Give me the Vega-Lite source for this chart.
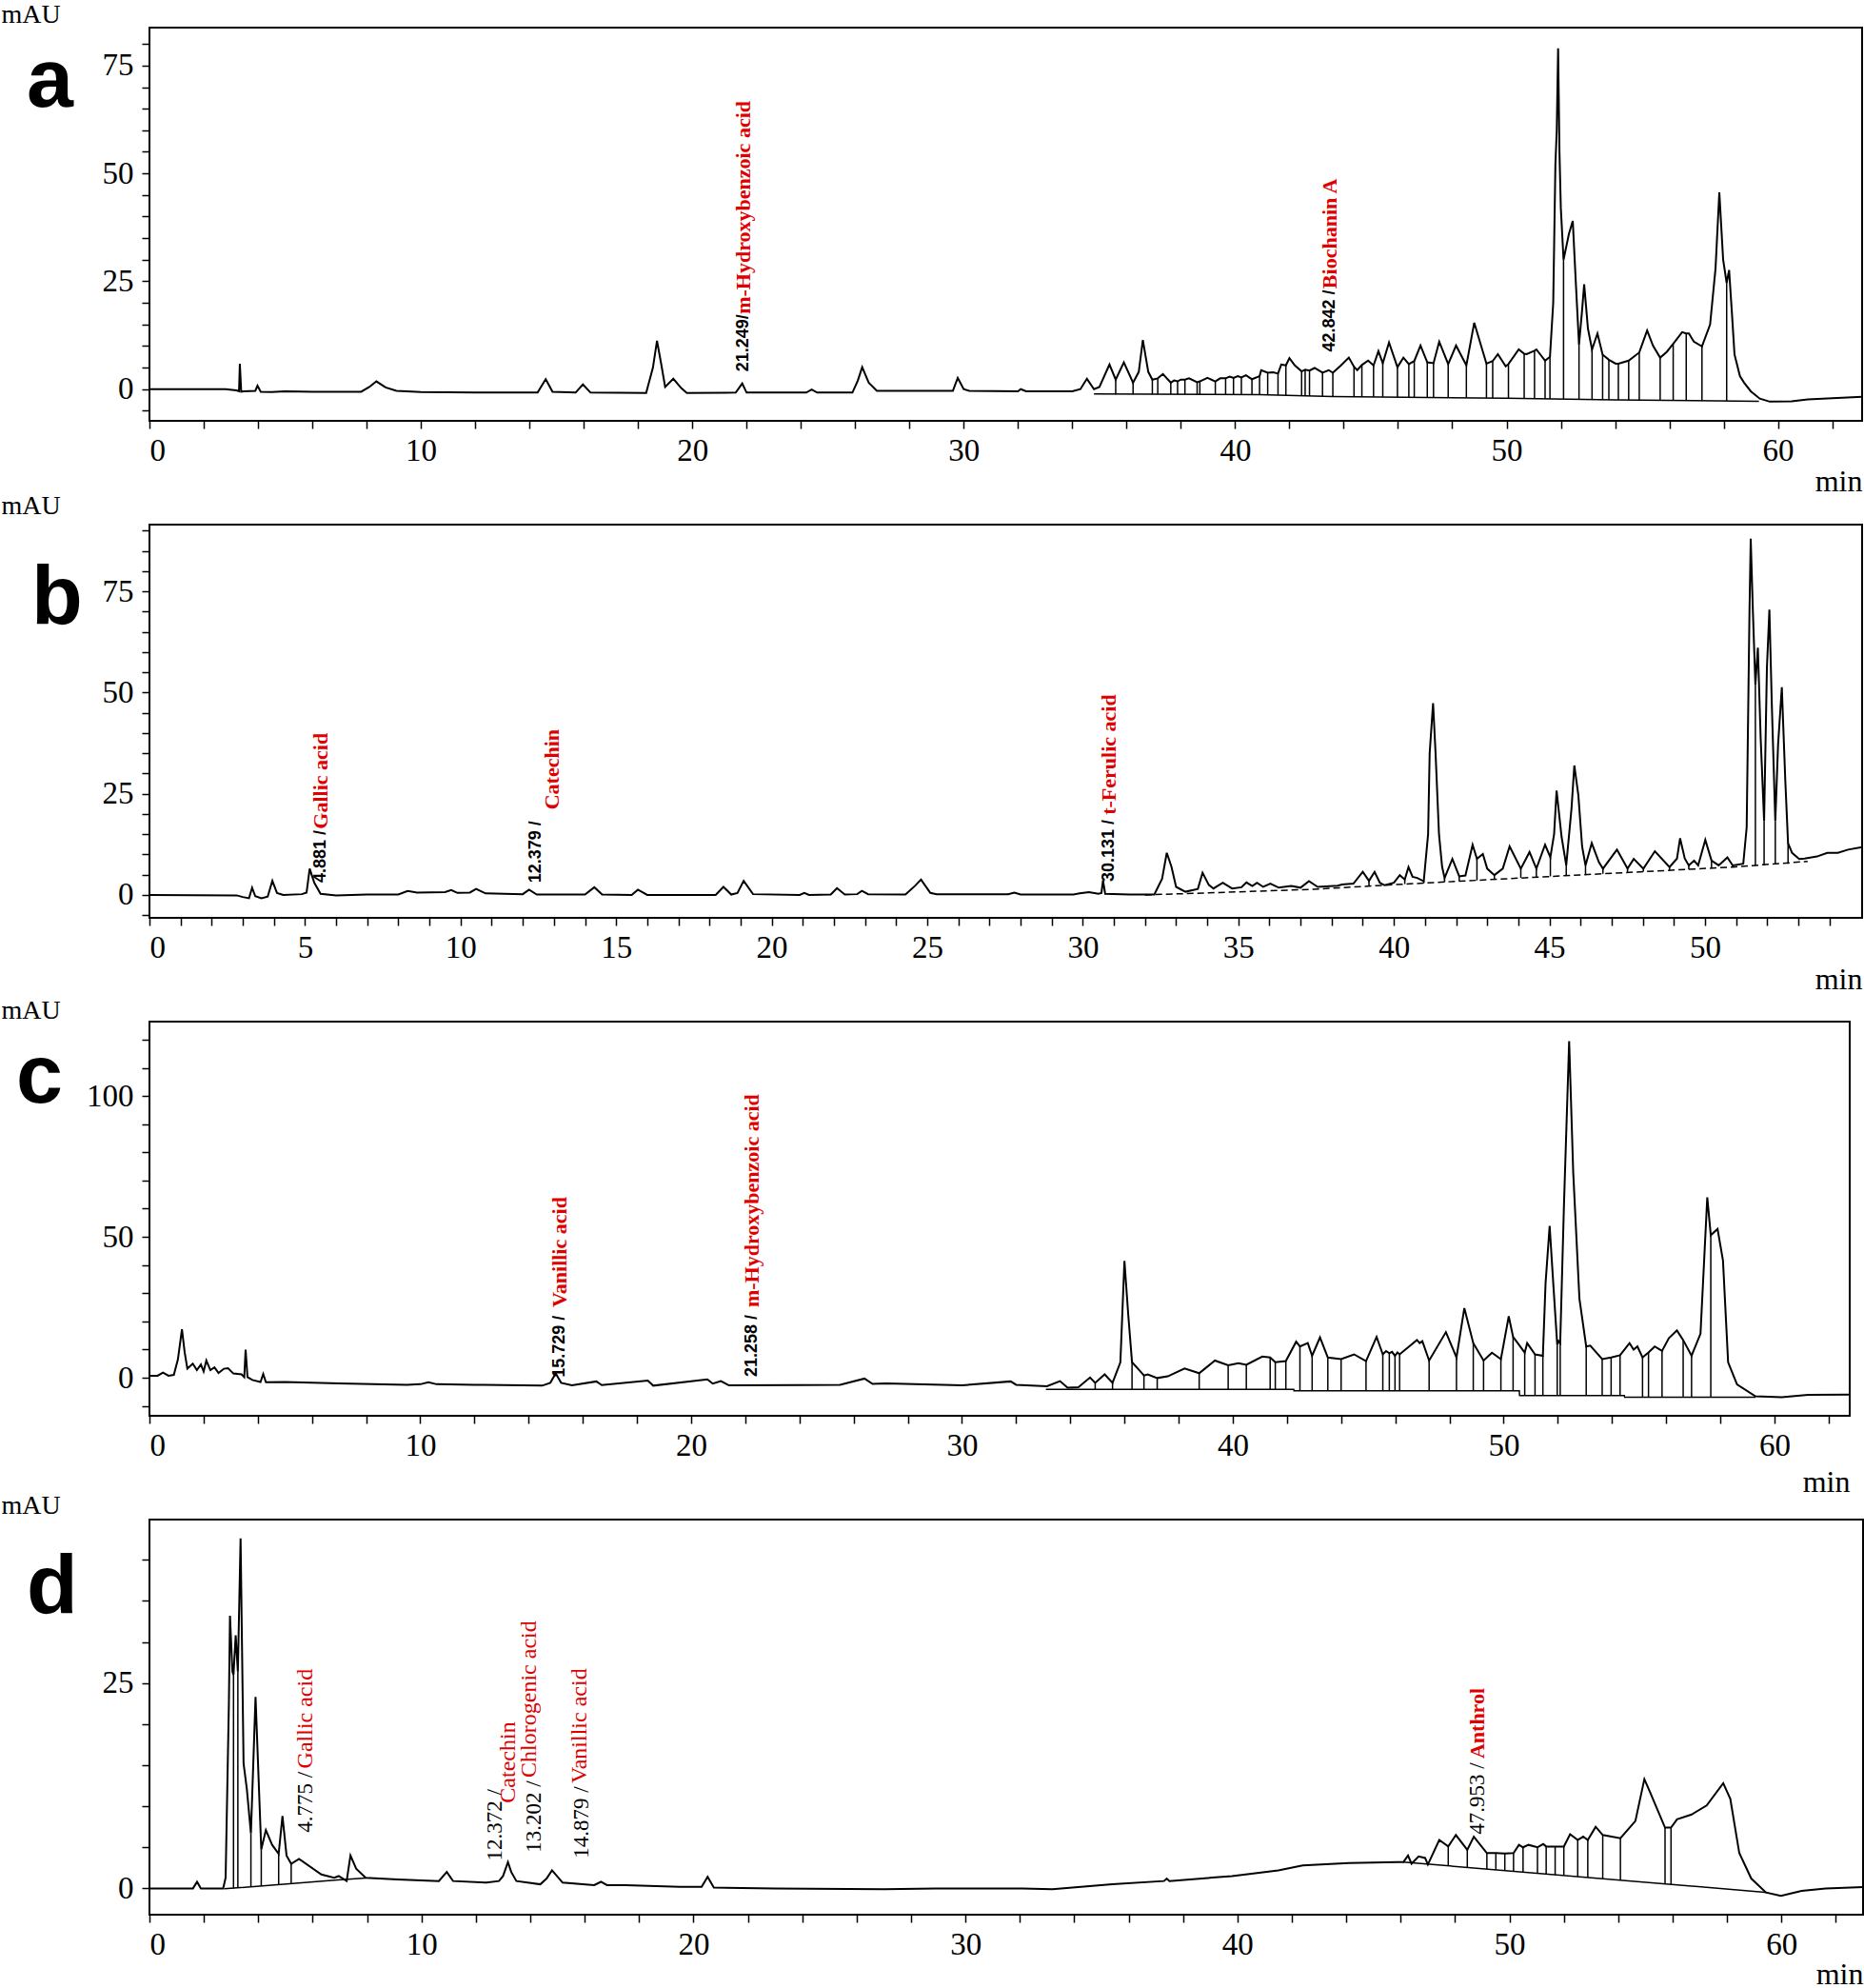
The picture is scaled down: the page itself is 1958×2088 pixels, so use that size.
{
  "$schema": "https://vega.github.io/schema/vega-lite/v6.json",
  "padding": 0,
  "autosize": {"type": "pad"},
  "background": "white",
  "config": {
    "view": {"stroke": "black", "strokeWidth": 2},
    "font": "Liberation Serif",
    "axis": {"domain": false, "grid": false, "ticks": true, "tickColor": "black", "tickSize": 8, "tickWidth": 1.5,
      "labelFont": "Liberation Serif", "labelFontSize": 33, "labelColor": "black", "labelPadding": 7,
      "titleFont": "Liberation Serif", "titleFontWeight": "normal", "titleColor": "black", "titleFontSize": 30},
    "axisY": {"labelPadding": 9},
    "title": {"font": "Liberation Sans", "fontWeight": "bold", "fontSize": 88, "color": "black"}
  },
  "datasets": {
    "a_tr": [{"t":0,"v":0},{"t":2.8,"v":0},{"t":3.2,"v":-0.3},{"t":3.3,"v":-0.5},{"t":3.33,"v":5.9},{"t":3.38,"v":-0.6},{"t":3.5,"v":-0.5},{"t":3.9,"v":-0.4},{"t":3.98,"v":0.8},{"t":4.1,"v":-0.6},{"t":4.5,"v":-0.7},{"t":5,"v":-0.5},{"t":6,"v":-0.6},{"t":7.8,"v":-0.6},{"t":8.1,"v":0.5},{"t":8.36,"v":1.8},{"t":8.7,"v":0.4},{"t":9.1,"v":-0.4},{"t":10,"v":-0.7},{"t":12,"v":-0.8},{"t":14.3,"v":-0.8},{"t":14.6,"v":2.3},{"t":14.85,"v":-0.6},{"t":15.7,"v":-0.8},{"t":15.97,"v":1.1},{"t":16.25,"v":-0.8},{"t":18.3,"v":-0.9},{"t":18.55,"v":5},{"t":18.7,"v":11.2},{"t":18.85,"v":6},{"t":19.0,"v":0.5},{"t":19.3,"v":2.4},{"t":19.6,"v":0.2},{"t":19.8,"v":-0.9},{"t":21.6,"v":-0.8},{"t":21.84,"v":1.3},{"t":22.0,"v":-0.8},{"t":24.2,"v":-0.8},{"t":24.4,"v":-0.1},{"t":24.6,"v":-0.8},{"t":25.9,"v":-0.8},{"t":26.1,"v":2},{"t":26.26,"v":5.1},{"t":26.5,"v":1.5},{"t":26.8,"v":-0.4},{"t":29.6,"v":-0.4},{"t":29.78,"v":2.6},{"t":30.0,"v":0},{"t":30.2,"v":-0.4},{"t":32.0,"v":-0.5},{"t":32.1,"v":0},{"t":32.3,"v":-0.5},{"t":34.0,"v":-0.5},{"t":34.3,"v":0},{"t":34.54,"v":2.4},{"t":34.8,"v":0},{"t":35.0,"v":0.5},{"t":35.37,"v":5.7},{"t":35.6,"v":2.2},{"t":35.9,"v":6.2},{"t":36.24,"v":1.5},{"t":36.45,"v":4},{"t":36.6,"v":11.4},{"t":36.8,"v":4},{"t":36.95,"v":2.2},{"t":37.15,"v":2.5},{"t":37.34,"v":3.5},{"t":37.63,"v":1.5},{"t":37.75,"v":2.0},{"t":37.88,"v":1.8},{"t":38.0,"v":2.2},{"t":38.15,"v":2.2},{"t":38.3,"v":2.5},{"t":38.6,"v":1.6},{"t":38.7,"v":1.8},{"t":38.98,"v":2.6},{"t":39.27,"v":1.8},{"t":39.45,"v":2.5},{"t":39.65,"v":2.5},{"t":39.8,"v":2.9},{"t":39.94,"v":2.6},{"t":40.1,"v":3.0},{"t":40.23,"v":2.7},{"t":40.4,"v":3.2},{"t":40.62,"v":2.3},{"t":40.9,"v":3.0},{"t":40.96,"v":4.4},{"t":41.2,"v":3.8},{"t":41.4,"v":3.9},{"t":41.58,"v":3.6},{"t":41.7,"v":5.7},{"t":41.87,"v":5.5},{"t":42.0,"v":7.2},{"t":42.2,"v":5.5},{"t":42.45,"v":4.1},{"t":42.58,"v":4.5},{"t":42.74,"v":4.3},{"t":42.93,"v":4.9},{"t":43.22,"v":3.8},{"t":43.45,"v":4.4},{"t":43.6,"v":3.8},{"t":43.9,"v":5.5},{"t":44.19,"v":7.3},{"t":44.38,"v":5.2},{"t":44.5,"v":4.4},{"t":44.67,"v":5.6},{"t":44.9,"v":6.6},{"t":45.1,"v":5.5},{"t":45.28,"v":8.8},{"t":45.44,"v":6.0},{"t":45.67,"v":10.8},{"t":45.98,"v":5.1},{"t":46.2,"v":7.3},{"t":46.4,"v":5.8},{"t":46.6,"v":6.5},{"t":46.83,"v":10.1},{"t":47.08,"v":6.2},{"t":47.31,"v":6.0},{"t":47.52,"v":11.0},{"t":47.85,"v":5.8},{"t":48.14,"v":10.1},{"t":48.52,"v":5.5},{"t":48.81,"v":15.4},{"t":49.26,"v":5.9},{"t":49.49,"v":6.5},{"t":49.68,"v":8.1},{"t":49.97,"v":5.3},{"t":50.07,"v":5.8},{"t":50.45,"v":9.2},{"t":50.65,"v":8.2},{"t":50.74,"v":8.1},{"t":51.03,"v":8.9},{"t":51.1,"v":9.2},{"t":51.42,"v":6.6},{"t":51.6,"v":7.5},{"t":51.72,"v":20},{"t":51.8,"v":52},{"t":51.85,"v":60},{"t":51.9,"v":79},{"t":51.95,"v":55},{"t":52.0,"v":42},{"t":52.1,"v":30},{"t":52.3,"v":36},{"t":52.44,"v":39},{"t":52.55,"v":25},{"t":52.67,"v":10.3},{"t":52.78,"v":18},{"t":52.86,"v":24.3},{"t":53.0,"v":14},{"t":53.15,"v":9.2},{"t":53.35,"v":12.9},{"t":53.54,"v":8.0},{"t":53.77,"v":6.8},{"t":54.02,"v":5.9},{"t":54.12,"v":5.9},{"t":54.5,"v":6.6},{"t":54.89,"v":8.5},{"t":55.18,"v":13.6},{"t":55.4,"v":10},{"t":55.66,"v":7.3},{"t":55.9,"v":8.6},{"t":56.14,"v":10.5},{"t":56.47,"v":13.2},{"t":56.62,"v":12.9},{"t":56.72,"v":12.9},{"t":56.9,"v":11},{"t":57.2,"v":9.9},{"t":57.5,"v":15},{"t":57.7,"v":28},{"t":57.84,"v":45.6},{"t":57.98,"v":30},{"t":58.11,"v":24.6},{"t":58.2,"v":27.6},{"t":58.3,"v":18},{"t":58.4,"v":8},{"t":58.6,"v":3},{"t":58.75,"v":1.5},{"t":59.0,"v":-0.5},{"t":59.33,"v":-2.2},{"t":59.7,"v":-2.9},{"t":60.5,"v":-2.8},{"t":61.1,"v":-2.4},{"t":62.0,"v":-2.1},{"t":63.1,"v":-1.8}],
    "a_bl": [{"t":34.8,"v":-1.1},{"t":40.9,"v":-1.3},{"t":43.6,"v":-1.7},{"t":50,"v":-2.1},{"t":54,"v":-2.5},{"t":59.3,"v":-2.8}],
    "a_dr": [{"t":35.6,"b":-1.2,"v":2.2},{"t":36.24,"b":-1.2,"v":1.5},{"t":36.95,"b":-1.2,"v":2.2},{"t":37.15,"b":-1.2,"v":2.5},{"t":37.63,"b":-1.2,"v":1.5},{"t":37.88,"b":-1.2,"v":1.8},{"t":38.15,"b":-1.2,"v":2.2},{"t":38.6,"b":-1.2,"v":1.6},{"t":38.7,"b":-1.2,"v":1.8},{"t":39.27,"b":-1.2,"v":1.8},{"t":39.65,"b":-1.2,"v":2.5},{"t":39.94,"b":-1.2,"v":2.6},{"t":40.23,"b":-1.2,"v":2.7},{"t":40.62,"b":-1.3,"v":2.3},{"t":40.9,"b":-1.3,"v":3.0},{"t":41.2,"b":-1.4,"v":3.8},{"t":41.58,"b":-1.4,"v":3.6},{"t":41.87,"b":-1.4,"v":5.5},{"t":42.45,"b":-1.5,"v":4.1},{"t":42.58,"b":-1.5,"v":4.5},{"t":42.74,"b":-1.5,"v":4.3},{"t":43.22,"b":-1.6,"v":3.8},{"t":43.6,"b":-1.7,"v":3.8},{"t":44.38,"b":-1.75,"v":5.2},{"t":44.67,"b":-1.8,"v":5.6},{"t":45.1,"b":-1.8,"v":5.5},{"t":45.44,"b":-1.8,"v":6.0},{"t":45.98,"b":-1.85,"v":5.1},{"t":46.4,"b":-1.9,"v":5.8},{"t":46.6,"b":-1.9,"v":6.5},{"t":47.08,"b":-1.9,"v":6.2},{"t":47.31,"b":-1.95,"v":6.0},{"t":47.85,"b":-1.95,"v":5.8},{"t":48.52,"b":-2.0,"v":5.5},{"t":49.26,"b":-2.05,"v":5.9},{"t":49.49,"b":-2.05,"v":6.5},{"t":50.07,"b":-2.1,"v":5.8},{"t":50.65,"b":-2.15,"v":8.2},{"t":51.03,"b":-2.2,"v":8.9},{"t":51.42,"b":-2.25,"v":6.6},{"t":51.6,"b":-2.25,"v":7.5},{"t":52.1,"b":-2.3,"v":30},{"t":52.67,"b":-2.35,"v":10.3},{"t":53.15,"b":-2.4,"v":9.2},{"t":53.54,"b":-2.45,"v":8.0},{"t":53.77,"b":-2.45,"v":6.8},{"t":54.12,"b":-2.5,"v":5.9},{"t":54.5,"b":-2.55,"v":6.6},{"t":54.89,"b":-2.55,"v":8.5},{"t":55.66,"b":-2.6,"v":7.3},{"t":56.14,"b":-2.65,"v":10.5},{"t":56.62,"b":-2.65,"v":12.9},{"t":57.2,"b":-2.7,"v":9.9},{"t":58.11,"b":-2.75,"v":24.6}],
    "a_num": [{"t":21.88,"v":17.3,"s":"21.249/"},{"t":43.5,"v":23.0,"s":"42.842 /"}],
    "a_nm": [{"t":21.88,"v":17.4,"s":"m-Hydroxybenzoic acid"},{"t":43.5,"v":23.3,"s":"Biochanin A"}],
    "b_tr": [{"t":0,"v":0},{"t":2.8,"v":-0.1},{"t":3.0,"v":-0.5},{"t":3.2,"v":-0.8},{"t":3.3,"v":1.8},{"t":3.4,"v":-0.3},{"t":3.6,"v":-0.8},{"t":3.8,"v":-0.4},{"t":3.95,"v":3.5},{"t":4.1,"v":0.5},{"t":4.3,"v":0},{"t":4.9,"v":0.2},{"t":5.05,"v":0.6},{"t":5.15,"v":6.5},{"t":5.3,"v":3},{"t":5.5,"v":0.3},{"t":6,"v":-0.1},{"t":7,"v":0.1},{"t":8,"v":0.1},{"t":8.3,"v":1.0},{"t":8.6,"v":0.6},{"t":9.5,"v":0.7},{"t":9.7,"v":1.2},{"t":9.9,"v":0.5},{"t":10.3,"v":0.6},{"t":10.5,"v":1.5},{"t":10.8,"v":0.4},{"t":12.0,"v":0.2},{"t":12.2,"v":1.3},{"t":12.45,"v":0.1},{"t":14.0,"v":0.1},{"t":14.3,"v":1.9},{"t":14.55,"v":0.1},{"t":15.5,"v":0},{"t":15.7,"v":1.3},{"t":16.0,"v":0},{"t":18.2,"v":0},{"t":18.45,"v":2.0},{"t":18.7,"v":0.1},{"t":18.9,"v":0.5},{"t":19.1,"v":3.5},{"t":19.4,"v":0.2},{"t":20.9,"v":0},{"t":21.05,"v":0.5},{"t":21.2,"v":0},{"t":21.9,"v":0.1},{"t":22.1,"v":1.7},{"t":22.35,"v":0.1},{"t":22.75,"v":0.2},{"t":22.9,"v":1.0},{"t":23.1,"v":0.2},{"t":24.3,"v":0.1},{"t":24.6,"v":2.2},{"t":24.8,"v":3.8},{"t":25.1,"v":0.5},{"t":25.3,"v":0.2},{"t":27.6,"v":0.2},{"t":27.8,"v":0.6},{"t":28.0,"v":0.1},{"t":29.7,"v":0.1},{"t":29.9,"v":0.4},{"t":30.2,"v":0.7},{"t":30.5,"v":0.3},{"t":30.6,"v":0.5},{"t":30.65,"v":3.6},{"t":30.72,"v":0.3},{"t":31.5,"v":0.1},{"t":32.3,"v":0.1},{"t":32.55,"v":4},{"t":32.7,"v":10.4},{"t":32.85,"v":7},{"t":33.0,"v":2.0},{"t":33.3,"v":0.8},{"t":33.7,"v":1.5},{"t":33.85,"v":5.5},{"t":34.05,"v":2.5},{"t":34.2,"v":1.6},{"t":34.5,"v":3.0},{"t":34.8,"v":1.6},{"t":35.1,"v":1.9},{"t":35.26,"v":3.1},{"t":35.45,"v":2.2},{"t":35.6,"v":3.0},{"t":35.8,"v":2.0},{"t":36.03,"v":2.8},{"t":36.3,"v":1.8},{"t":36.7,"v":2.2},{"t":37.0,"v":1.8},{"t":37.27,"v":3.4},{"t":37.55,"v":2.0},{"t":38.2,"v":2.3},{"t":38.33,"v":2.6},{"t":38.7,"v":2.8},{"t":39.0,"v":5.7},{"t":39.2,"v":3.5},{"t":39.38,"v":5.7},{"t":39.55,"v":3.0},{"t":39.7,"v":2.4},{"t":40.0,"v":3.0},{"t":40.19,"v":4.9},{"t":40.35,"v":3.8},{"t":40.47,"v":6.9},{"t":40.6,"v":4.5},{"t":40.75,"v":4.2},{"t":40.96,"v":3.4},{"t":41.1,"v":15},{"t":41.15,"v":35},{"t":41.26,"v":47.4},{"t":41.34,"v":35},{"t":41.45,"v":15},{"t":41.55,"v":7},{"t":41.63,"v":4.2},{"t":41.88,"v":8.9},{"t":42.1,"v":4.6},{"t":42.3,"v":4.8},{"t":42.53,"v":12.4},{"t":42.67,"v":8.9},{"t":42.86,"v":10.1},{"t":43.0,"v":6.5},{"t":43.23,"v":4.9},{"t":43.5,"v":6.5},{"t":43.72,"v":12.0},{"t":44.08,"v":6.5},{"t":44.36,"v":10.6},{"t":44.58,"v":6.5},{"t":44.86,"v":12.4},{"t":45.03,"v":9.3},{"t":45.15,"v":15},{"t":45.23,"v":25.8},{"t":45.39,"v":14.4},{"t":45.54,"v":7.3},{"t":45.71,"v":21.4},{"t":45.8,"v":32.0},{"t":45.93,"v":24.6},{"t":46.05,"v":12},{"t":46.16,"v":7.3},{"t":46.36,"v":12.8},{"t":46.59,"v":8.1},{"t":46.72,"v":6.5},{"t":47.17,"v":11.2},{"t":47.51,"v":6.5},{"t":47.71,"v":8.9},{"t":48.02,"v":6.5},{"t":48.39,"v":10.8},{"t":48.86,"v":6.9},{"t":49.1,"v":9},{"t":49.2,"v":14.0},{"t":49.35,"v":9},{"t":49.48,"v":7.3},{"t":49.65,"v":8.5},{"t":49.78,"v":7.3},{"t":50.01,"v":13.6},{"t":50.21,"v":8.5},{"t":50.44,"v":7.3},{"t":50.72,"v":9.3},{"t":50.89,"v":7.3},{"t":51.23,"v":7.7},{"t":51.34,"v":16.7},{"t":51.43,"v":70},{"t":51.47,"v":88},{"t":51.54,"v":70},{"t":51.62,"v":52},{"t":51.7,"v":61.1},{"t":51.79,"v":38.7},{"t":51.9,"v":18.3},{"t":51.99,"v":56},{"t":52.07,"v":70.5},{"t":52.15,"v":46.6},{"t":52.26,"v":18.3},{"t":52.35,"v":37.2},{"t":52.47,"v":51.3},{"t":52.58,"v":28.5},{"t":52.67,"v":12.8},{"t":52.8,"v":10.4},{"t":53.03,"v":8.9},{"t":53.2,"v":9.0},{"t":53.6,"v":9.5},{"t":53.93,"v":10.4},{"t":54.27,"v":10.4},{"t":54.6,"v":11.2},{"t":55.05,"v":11.8}],
    "b_bl": [{"t":32.0,"v":0},{"t":37.4,"v":1.4},{"t":41.1,"v":3.0},{"t":50.9,"v":6.9},{"t":53.3,"v":8.3}],
    "b_dr": [{"t":39.2,"b":2.2,"v":3.5},{"t":40.35,"b":2.7,"v":3.8},{"t":40.96,"b":2.9,"v":3.4},{"t":41.63,"b":3.2,"v":4.2},{"t":42.1,"b":3.4,"v":4.6},{"t":42.67,"b":3.6,"v":8.9},{"t":43.23,"b":3.8,"v":4.9},{"t":44.08,"b":4.2,"v":6.5},{"t":44.58,"b":4.4,"v":6.5},{"t":45.03,"b":4.6,"v":9.3},{"t":45.54,"b":4.8,"v":7.3},{"t":46.16,"b":5.0,"v":7.3},{"t":46.72,"b":5.2,"v":6.5},{"t":47.51,"b":5.6,"v":6.5},{"t":48.02,"b":5.8,"v":6.5},{"t":48.86,"b":6.1,"v":6.9},{"t":49.48,"b":6.3,"v":7.3},{"t":50.21,"b":6.6,"v":8.5},{"t":50.89,"b":6.9,"v":7.3},{"t":51.62,"b":7.2,"v":52},{"t":51.9,"b":7.3,"v":18.3},{"t":52.26,"b":7.5,"v":18.3},{"t":52.67,"b":7.7,"v":12.8}],
    "b_num": [{"t":5.52,"v":16.0,"s":"4.881 /"},{"t":12.41,"v":18.3,"s":"12.379 /"},{"t":30.86,"v":18.6,"s":"30.131 /"}],
    "b_nm": [{"t":5.52,"v":16.3,"s":"Gallic acid"},{"t":12.95,"v":21.1,"s":"Catechin"},{"t":30.86,"v":19.8,"s":"t-Ferulic acid"}],
    "c_tr": [{"t":0,"v":0.7},{"t":0.3,"v":0.7},{"t":0.5,"v":1.8},{"t":0.7,"v":0.7},{"t":0.9,"v":1.0},{"t":1.05,"v":6.5},{"t":1.2,"v":17.2},{"t":1.3,"v":9},{"t":1.4,"v":3.2},{"t":1.6,"v":5.0},{"t":1.75,"v":2.7},{"t":1.9,"v":4.7},{"t":2.0,"v":2.2},{"t":2.1,"v":6.1},{"t":2.25,"v":2.7},{"t":2.4,"v":3.7},{"t":2.55,"v":1.7},{"t":2.75,"v":3.2},{"t":2.9,"v":3.4},{"t":3.1,"v":1.5},{"t":3.4,"v":1.2},{"t":3.5,"v":0.2},{"t":3.55,"v":10.0},{"t":3.62,"v":0.2},{"t":3.8,"v":-0.8},{"t":4.1,"v":-1.5},{"t":4.2,"v":1.3},{"t":4.3,"v":-1.6},{"t":5,"v":-1.5},{"t":7,"v":-2.0},{"t":9.5,"v":-2.5},{"t":10.0,"v":-2.3},{"t":10.3,"v":-1.6},{"t":10.6,"v":-2.3},{"t":12,"v":-2.5},{"t":14.5,"v":-2.8},{"t":14.8,"v":-1.8},{"t":15.0,"v":1.5},{"t":15.2,"v":-1.8},{"t":15.6,"v":-2.7},{"t":16.5,"v":-1.3},{"t":16.7,"v":-2.6},{"t":18.4,"v":-1.0},{"t":18.6,"v":-2.8},{"t":20.6,"v":-0.6},{"t":20.8,"v":-2.1},{"t":21.1,"v":-1.2},{"t":21.4,"v":-2.7},{"t":24,"v":-2.6},{"t":25.5,"v":-2.5},{"t":26.4,"v":-0.3},{"t":26.7,"v":-2.2},{"t":27.2,"v":-2.0},{"t":30,"v":-2.7},{"t":31.8,"v":-1.3},{"t":32.0,"v":-2.5},{"t":33.14,"v":-3.0},{"t":33.62,"v":-1.2},{"t":33.9,"v":-3.5},{"t":34.3,"v":-3.4},{"t":34.73,"v":0.1},{"t":34.92,"v":-1.8},{"t":35.27,"v":1.2},{"t":35.56,"v":-1.8},{"t":35.85,"v":5.5},{"t":36.0,"v":41.5},{"t":36.14,"v":22.4},{"t":36.28,"v":5.5},{"t":36.47,"v":3.5},{"t":36.72,"v":0.8},{"t":36.86,"v":1.2},{"t":37.21,"v":-0.1},{"t":37.6,"v":0.5},{"t":38.22,"v":3.3},{"t":38.76,"v":1.6},{"t":39.34,"v":6.1},{"t":39.83,"v":4.4},{"t":40.21,"v":5.2},{"t":40.5,"v":4.6},{"t":41.09,"v":7.5},{"t":41.38,"v":7.2},{"t":41.57,"v":5.5},{"t":41.96,"v":5.9},{"t":42.34,"v":12.8},{"t":42.48,"v":11.1},{"t":42.77,"v":12.3},{"t":42.93,"v":7.8},{"t":43.22,"v":14.3},{"t":43.51,"v":7.2},{"t":44.0,"v":6.6},{"t":44.48,"v":8.3},{"t":44.92,"v":5.9},{"t":45.31,"v":14.5},{"t":45.54,"v":8.3},{"t":45.66,"v":9.5},{"t":45.78,"v":8.7},{"t":45.88,"v":9.2},{"t":45.99,"v":7.8},{"t":46.08,"v":9},{"t":46.16,"v":8.3},{"t":46.51,"v":11.1},{"t":46.8,"v":13.4},{"t":46.9,"v":12.3},{"t":47.0,"v":13},{"t":47.25,"v":6.1},{"t":47.87,"v":16.2},{"t":48.26,"v":7.2},{"t":48.55,"v":24.7},{"t":48.88,"v":12.3},{"t":49.26,"v":6.1},{"t":49.57,"v":8.9},{"t":49.9,"v":6.6},{"t":50.19,"v":21.8},{"t":50.35,"v":14.5},{"t":50.78,"v":8.9},{"t":50.87,"v":12.3},{"t":51.16,"v":8.3},{"t":51.45,"v":7.8},{"t":51.55,"v":33.7},{"t":51.7,"v":53.9},{"t":51.84,"v":32.5},{"t":51.98,"v":11.7},{"t":52.03,"v":13},{"t":52.09,"v":12.3},{"t":52.23,"v":61.8},{"t":52.42,"v":119.5},{"t":52.57,"v":73},{"t":52.8,"v":28},{"t":53.05,"v":11.1},{"t":53.2,"v":11.4},{"t":53.64,"v":6.6},{"t":53.97,"v":7.2},{"t":54.3,"v":8.0},{"t":54.65,"v":12.3},{"t":54.8,"v":10},{"t":54.94,"v":11.1},{"t":55.13,"v":7.2},{"t":55.35,"v":9.0},{"t":55.58,"v":11.1},{"t":55.85,"v":9.5},{"t":56.1,"v":14},{"t":56.4,"v":16.8},{"t":56.63,"v":13.4},{"t":56.94,"v":7.8},{"t":57.27,"v":15.6},{"t":57.52,"v":64},{"t":57.65,"v":50.6},{"t":57.9,"v":52.8},{"t":58.1,"v":41.6},{"t":58.29,"v":5.5},{"t":58.62,"v":-2.4},{"t":59.3,"v":-6.6},{"t":60.27,"v":-6.9},{"t":61.24,"v":-6.1},{"t":62.78,"v":-6.0}],
    "c_bl": [{"t":33.1,"v":-4.1},{"t":42.25,"v":-4.1},{"t":42.26,"v":-4.6},{"t":50.58,"v":-4.6},{"t":50.59,"v":-6.3},{"t":54.46,"v":-6.3},{"t":54.47,"v":-6.9},{"t":59.3,"v":-6.9}],
    "c_dr": [{"t":34.92,"b":-4.1,"v":-1.8},{"t":35.56,"b":-4.1,"v":-1.8},{"t":36.28,"b":-4.1,"v":5.5},{"t":36.72,"b":-4.1,"v":0.8},{"t":37.21,"b":-4.1,"v":-0.1},{"t":38.76,"b":-4.1,"v":1.6},{"t":39.83,"b":-4.1,"v":4.4},{"t":40.5,"b":-4.1,"v":4.6},{"t":41.38,"b":-4.1,"v":7.2},{"t":41.57,"b":-4.1,"v":5.5},{"t":41.96,"b":-4.1,"v":5.9},{"t":42.48,"b":-4.6,"v":11.1},{"t":42.93,"b":-4.6,"v":7.8},{"t":43.51,"b":-4.6,"v":7.2},{"t":44.0,"b":-4.6,"v":6.6},{"t":44.92,"b":-4.6,"v":5.9},{"t":45.54,"b":-4.6,"v":8.3},{"t":45.78,"b":-4.6,"v":8.7},{"t":45.99,"b":-4.6,"v":7.8},{"t":46.16,"b":-4.6,"v":8.3},{"t":47.25,"b":-4.6,"v":6.1},{"t":48.26,"b":-4.6,"v":7.2},{"t":48.88,"b":-4.6,"v":12.3},{"t":49.26,"b":-4.6,"v":6.1},{"t":49.9,"b":-4.6,"v":6.6},{"t":50.35,"b":-4.6,"v":14.5},{"t":50.78,"b":-6.3,"v":8.9},{"t":51.16,"b":-6.3,"v":8.3},{"t":51.45,"b":-6.3,"v":7.8},{"t":51.98,"b":-6.3,"v":11.7},{"t":52.09,"b":-6.3,"v":12.3},{"t":53.05,"b":-6.3,"v":11.1},{"t":53.64,"b":-6.3,"v":6.6},{"t":53.97,"b":-6.3,"v":7.2},{"t":54.3,"b":-6.3,"v":8.0},{"t":55.13,"b":-6.9,"v":7.2},{"t":55.35,"b":-6.9,"v":9.0},{"t":55.85,"b":-6.9,"v":9.5},{"t":56.63,"b":-6.9,"v":13.4},{"t":56.94,"b":-6.9,"v":7.8},{"t":57.65,"b":-6.9,"v":50.6}],
    "c_num": [{"t":15.16,"v":22.1,"s":"15.729 /"},{"t":22.24,"v":22.3,"s":"21.258 /"}],
    "c_nm": [{"t":15.16,"v":25.0,"s":"Vanillic acid"},{"t":22.24,"v":25.0,"s":"m-Hydroxybenzoic acid"}],
    "d_tr": [{"t":0,"v":0},{"t":1.6,"v":0},{"t":1.75,"v":0.8},{"t":1.89,"v":0},{"t":2.71,"v":0},{"t":2.8,"v":1.3},{"t":2.92,"v":22.5},{"t":2.96,"v":33.2},{"t":3.05,"v":26.4},{"t":3.09,"v":26},{"t":3.17,"v":30.8},{"t":3.25,"v":26.4},{"t":3.35,"v":42.6},{"t":3.46,"v":15.2},{"t":3.58,"v":12.1},{"t":3.73,"v":6.7},{"t":3.9,"v":23.3},{"t":4.11,"v":4.75},{"t":4.28,"v":7.1},{"t":4.51,"v":5.3},{"t":4.75,"v":4.2},{"t":4.89,"v":8.8},{"t":5.04,"v":4.0},{"t":5.21,"v":3.0},{"t":5.5,"v":3.6},{"t":6.32,"v":1.7},{"t":6.79,"v":1.3},{"t":6.96,"v":1.5},{"t":7.25,"v":0.9},{"t":7.39,"v":4.0},{"t":7.6,"v":2.4},{"t":7.95,"v":1.3},{"t":9.12,"v":1.1},{"t":10.64,"v":0.9},{"t":10.93,"v":2.0},{"t":11.16,"v":0.9},{"t":12.39,"v":0.7},{"t":12.85,"v":0.9},{"t":13.0,"v":1.5},{"t":13.18,"v":3.2},{"t":13.3,"v":2.0},{"t":13.49,"v":0.9},{"t":14.37,"v":0.5},{"t":14.6,"v":1.2},{"t":14.8,"v":2.2},{"t":15.19,"v":0.7},{"t":16.35,"v":0.4},{"t":16.6,"v":0.8},{"t":16.82,"v":0.4},{"t":17.5,"v":0.4},{"t":19.5,"v":0.2},{"t":20.3,"v":0.2},{"t":20.52,"v":1.4},{"t":20.75,"v":0.1},{"t":23,"v":0},{"t":27,"v":-0.1},{"t":28.9,"v":0},{"t":32.1,"v":0},{"t":33.2,"v":-0.1},{"t":35.4,"v":0.5},{"t":37.3,"v":0.9},{"t":37.4,"v":1.2},{"t":37.5,"v":0.9},{"t":39.8,"v":1.5},{"t":41.5,"v":2.2},{"t":42.4,"v":2.8},{"t":44.1,"v":3.1},{"t":45.9,"v":3.2},{"t":46.1,"v":3.2},{"t":46.27,"v":4.0},{"t":46.4,"v":3.0},{"t":46.66,"v":3.9},{"t":46.9,"v":3.7},{"t":47.0,"v":2.9},{"t":47.42,"v":5.9},{"t":47.75,"v":5.1},{"t":48.03,"v":6.5},{"t":48.45,"v":4.7},{"t":48.69,"v":6.3},{"t":49.17,"v":4.3},{"t":49.5,"v":4.3},{"t":49.83,"v":4.25},{"t":50.15,"v":4.3},{"t":50.35,"v":5.3},{"t":50.5,"v":5.0},{"t":50.7,"v":5.3},{"t":51.03,"v":5.0},{"t":51.24,"v":5.4},{"t":51.35,"v":5.1},{"t":51.68,"v":5.1},{"t":52.0,"v":5.1},{"t":52.23,"v":6.6},{"t":52.51,"v":5.9},{"t":52.71,"v":6.3},{"t":52.88,"v":5.9},{"t":53.17,"v":7.5},{"t":53.43,"v":6.5},{"t":54.08,"v":6.1},{"t":54.63,"v":8.2},{"t":54.96,"v":13.3},{"t":55.17,"v":11.7},{"t":55.72,"v":7.4},{"t":55.94,"v":7.4},{"t":56.16,"v":8.4},{"t":56.7,"v":9.0},{"t":57.25,"v":10.1},{"t":57.86,"v":12.8},{"t":58.12,"v":10.9},{"t":58.45,"v":4.3},{"t":58.89,"v":1.2},{"t":59.43,"v":-0.5},{"t":59.98,"v":-0.9},{"t":60.74,"v":-0.3},{"t":61.62,"v":0},{"t":63,"v":0.15}],
    "d_bl": [{"t":2.75,"v":-0.05,"g":1},{"t":6.8,"v":1.0,"g":1},{"t":7.95,"v":1.25,"g":1},{"t":46.1,"v":3.2,"g":2},{"t":59.5,"v":-0.5,"g":2}],
    "d_dr": [{"t":3.09,"b":0.0,"v":26},{"t":3.25,"b":0.05,"v":26.4},{"t":3.73,"b":0.2,"v":6.7},{"t":4.11,"b":0.3,"v":4.75},{"t":4.75,"b":0.5,"v":4.2},{"t":5.21,"b":0.6,"v":3.0},{"t":47.75,"b":2.74,"v":5.1},{"t":48.45,"b":2.55,"v":4.7},{"t":49.17,"b":2.35,"v":4.3},{"t":49.5,"b":2.26,"v":4.3},{"t":49.83,"b":2.17,"v":4.25},{"t":50.15,"b":2.08,"v":4.3},{"t":50.5,"b":1.99,"v":5.0},{"t":51.03,"b":1.84,"v":5.0},{"t":51.35,"b":1.75,"v":5.1},{"t":51.68,"b":1.66,"v":5.1},{"t":52.0,"b":1.57,"v":5.1},{"t":52.51,"b":1.43,"v":5.9},{"t":52.88,"b":1.33,"v":5.9},{"t":53.43,"b":1.18,"v":6.5},{"t":54.08,"b":1.0,"v":6.1},{"t":55.72,"b":0.55,"v":7.4},{"t":55.94,"b":0.48,"v":7.4}],
    "d_num": [{"t":5.74,"v":14.2,"s":"4.775 /"},{"t":12.7,"v":12.1,"s":"12.372 /"},{"t":14.14,"v":13.1,"s":"13.202 /"},{"t":15.88,"v":12.4,"s":"14.879 /"},{"t":48.84,"v":15.3,"s":"47.953 /"}],
    "d_nm": [{"t":5.74,"v":14.6,"s":"Gallic acid"},{"t":13.2,"v":10.4,"s":"Catechin"},{"t":13.97,"v":13.5,"s":"Chlorogenic acid"},{"t":15.83,"v":12.8,"s":"Vanillic acid"}],
    "d_nm2": [{"t":48.84,"v":15.8,"s":"Anthrol"}]
  },
  "vconcat": [
    {
      "width": 1799, "height": 413,
      "title": {"text": "a", "orient": "top", "anchor": "start", "frame": "group", "offset": 0, "dx": -129, "dy": 199, "baseline": "alphabetic"},
      "encoding": {
        "x": {"field": "t", "type": "quantitative", "scale": {"domain": [0, 63.1], "nice": false, "zero": false},
          "axis": {"values": [0,2,4,6,8,10,12,14,16,18,20,22,24,26,28,30,32,34,36,38,40,42,44,46,48,50,52,54,56,58,60,62], "labelExpr": "datum.value % 10 === 0 ? datum.label : ''", "title": "min", "titleX": 1799, "titleY": 73, "titleAlign": "right", "titleBaseline": "alphabetic", "titleAngle": 0, "titleFontSize": 32}},
        "y": {"field": "v", "type": "quantitative", "scale": {"domain": [-7.35, 83.8], "nice": false, "zero": false},
          "axis": {"values": [-5,0,5,10,15,20,25,30,35,40,45,50,55,60,65,70,75,80], "labelExpr": "datum.value % 25 === 0 ? datum.label : ''", "title": "mAU", "titleX": -156, "titleY": -6, "titleAlign": "left", "titleBaseline": "alphabetic", "titleAngle": 0, "titleFontSize": 28}}
      },
      "layer": [
        {"data": {"name": "a_bl"}, "mark": {"type": "line", "color": "black", "strokeWidth": 1.5}},
        {"data": {"name": "a_dr"}, "mark": {"type": "rule", "color": "black", "strokeWidth": 1.5}, "encoding": {"y": {"field": "b", "type": "quantitative"}, "y2": {"field": "v"}}},
        {"data": {"name": "a_tr"}, "mark": {"type": "line", "color": "black", "strokeWidth": 2}},
        {"data": {"name": "a_num"}, "mark": {"type": "text", "angle": 270, "align": "right", "baseline": "middle", "font": "Liberation Sans", "fontWeight": "bold", "fontSize": 18, "color": "black"}, "encoding": {"text": {"field": "s"}}},
        {"data": {"name": "a_nm"}, "mark": {"type": "text", "angle": 270, "align": "left", "baseline": "middle", "font": "Liberation Serif", "fontWeight": "bold", "fontSize": 22, "color": "#e00000"}, "encoding": {"text": {"field": "s"}}},
        {"data": {"values": [{"s": "PDA Multi 3"}]}, "mark": {"type": "text", "align": "right", "baseline": "alphabetic", "dx": -4, "dy": 26, "font": "Liberation Serif", "fontSize": 32, "color": "black"}, "encoding": {"x": {"datum": 63.1}, "y": {"datum": 83.8}, "text": {"field": "s"}}}
      ]
    },
    {
      "width": 1799, "height": 413,
      "title": {"text": "b", "orient": "top", "anchor": "start", "frame": "group", "offset": 0, "dx": -124, "dy": 226, "baseline": "alphabetic"},
      "encoding": {
        "x": {"field": "t", "type": "quantitative", "scale": {"domain": [0, 55.05], "nice": false, "zero": false},
          "axis": {"values": [0,1,2,3,4,5,6,7,8,9,10,11,12,13,14,15,16,17,18,19,20,21,22,23,24,25,26,27,28,29,30,31,32,33,34,35,36,37,38,39,40,41,42,43,44,45,46,47,48,49,50,51,52,53,54], "labelExpr": "datum.value % 5 === 0 ? datum.label : ''", "title": "min", "titleX": 1799, "titleY": 74, "titleAlign": "right", "titleBaseline": "alphabetic", "titleAngle": 0, "titleFontSize": 32}},
        "y": {"field": "v", "type": "quantitative", "scale": {"domain": [-5.65, 91.5], "nice": false, "zero": false},
          "axis": {"values": [-5,0,5,10,15,20,25,30,35,40,45,50,55,60,65,70,75,80,85,90], "labelExpr": "datum.value % 25 === 0 ? datum.label : ''", "title": "mAU", "titleX": -156, "titleY": -12, "titleAlign": "left", "titleBaseline": "alphabetic", "titleAngle": 0, "titleFontSize": 28}}
      },
      "layer": [
        {"data": {"name": "b_bl"}, "mark": {"type": "line", "color": "black", "strokeWidth": 1.5, "strokeDash": [7, 4]}},
        {"data": {"name": "b_dr"}, "mark": {"type": "rule", "color": "black", "strokeWidth": 1.5}, "encoding": {"y": {"field": "b", "type": "quantitative"}, "y2": {"field": "v"}}},
        {"data": {"name": "b_tr"}, "mark": {"type": "line", "color": "black", "strokeWidth": 2}},
        {"data": {"name": "b_num"}, "mark": {"type": "text", "angle": 270, "align": "right", "baseline": "middle", "font": "Liberation Sans", "fontWeight": "bold", "fontSize": 18, "color": "black"}, "encoding": {"text": {"field": "s"}}},
        {"data": {"name": "b_nm"}, "mark": {"type": "text", "angle": 270, "align": "left", "baseline": "middle", "font": "Liberation Serif", "fontWeight": "bold", "fontSize": 22, "color": "#e00000"}, "encoding": {"text": {"field": "s"}}},
        {"data": {"values": [{"s": "PDA Multi 3"}]}, "mark": {"type": "text", "align": "right", "baseline": "alphabetic", "dx": -2, "dy": 29, "font": "Liberation Serif", "fontSize": 32, "color": "black"}, "encoding": {"x": {"datum": 55.05}, "y": {"datum": 91.5}, "text": {"field": "s"}}}
      ]
    },
    {
      "width": 1786, "height": 414,
      "title": {"text": "c", "orient": "top", "anchor": "start", "frame": "group", "offset": 0, "dx": -140, "dy": 199, "baseline": "alphabetic"},
      "encoding": {
        "x": {"field": "t", "type": "quantitative", "scale": {"domain": [0, 62.78], "nice": false, "zero": false},
          "axis": {"values": [0,2,4,6,8,10,12,14,16,18,20,22,24,26,28,30,32,34,36,38,40,42,44,46,48,50,52,54,56,58,60,62], "labelExpr": "datum.value % 10 === 0 ? datum.label : ''", "title": "min", "titleX": 1786, "titleY": 79, "titleAlign": "right", "titleBaseline": "alphabetic", "titleAngle": 0, "titleFontSize": 32}},
        "y": {"field": "v", "type": "quantitative", "scale": {"domain": [-13.5, 126.4], "nice": false, "zero": false},
          "axis": {"values": [-10,0,10,20,30,40,50,60,70,80,90,100,110,120], "labelExpr": "datum.value % 50 === 0 ? datum.label : ''", "title": "mAU", "titleX": -156, "titleY": -4, "titleAlign": "left", "titleBaseline": "alphabetic", "titleAngle": 0, "titleFontSize": 28}}
      },
      "layer": [
        {"data": {"name": "c_bl"}, "mark": {"type": "line", "color": "black", "strokeWidth": 1.5}},
        {"data": {"name": "c_dr"}, "mark": {"type": "rule", "color": "black", "strokeWidth": 1.5}, "encoding": {"y": {"field": "b", "type": "quantitative"}, "y2": {"field": "v"}}},
        {"data": {"name": "c_tr"}, "mark": {"type": "line", "color": "black", "strokeWidth": 2}},
        {"data": {"name": "c_num"}, "mark": {"type": "text", "angle": 270, "align": "right", "baseline": "middle", "font": "Liberation Sans", "fontWeight": "bold", "fontSize": 18, "color": "black"}, "encoding": {"text": {"field": "s"}}},
        {"data": {"name": "c_nm"}, "mark": {"type": "text", "angle": 270, "align": "left", "baseline": "middle", "font": "Liberation Serif", "fontWeight": "bold", "fontSize": 22, "color": "#e00000"}, "encoding": {"text": {"field": "s"}}},
        {"data": {"values": [{"s": "PDA Multi 3"}]}, "mark": {"type": "text", "align": "right", "baseline": "alphabetic", "dx": -4, "dy": 30, "font": "Liberation Serif", "fontSize": 32, "color": "black"}, "encoding": {"x": {"datum": 62.78}, "y": {"datum": 126.4}, "text": {"field": "s"}}}
      ]
    },
    {
      "width": 1800, "height": 415,
      "title": {"text": "d", "orient": "top", "anchor": "start", "frame": "group", "offset": 0, "dx": -129, "dy": 215, "baseline": "alphabetic"},
      "encoding": {
        "x": {"field": "t", "type": "quantitative", "scale": {"domain": [0, 63], "nice": false, "zero": false},
          "axis": {"values": [0,2,4,6,8,10,12,14,16,18,20,22,24,26,28,30,32,34,36,38,40,42,44,46,48,50,52,54,56,58,60,62], "labelExpr": "datum.value % 10 === 0 ? datum.label : ''", "title": "min", "titleX": 1800, "titleY": 72, "titleAlign": "right", "titleBaseline": "alphabetic", "titleAngle": 0, "titleFontSize": 32}},
        "y": {"field": "v", "type": "quantitative", "scale": {"domain": [-3.2, 44.9], "nice": false, "zero": false},
          "axis": {"values": [0,5,10,15,20,25,30,35,40], "labelExpr": "datum.value % 25 === 0 ? datum.label : ''", "title": "mAU", "titleX": -156, "titleY": -7, "titleAlign": "left", "titleBaseline": "alphabetic", "titleAngle": 0, "titleFontSize": 28}}
      },
      "layer": [
        {"data": {"name": "d_bl"}, "mark": {"type": "line", "color": "black", "strokeWidth": 1.5}, "encoding": {"detail": {"field": "g", "type": "nominal"}}},
        {"data": {"name": "d_dr"}, "mark": {"type": "rule", "color": "black", "strokeWidth": 1.5}, "encoding": {"y": {"field": "b", "type": "quantitative"}, "y2": {"field": "v"}}},
        {"data": {"name": "d_tr"}, "mark": {"type": "line", "color": "black", "strokeWidth": 2}},
        {"data": {"name": "d_num"}, "mark": {"type": "text", "angle": 270, "align": "right", "baseline": "middle", "font": "Liberation Serif", "fontSize": 23, "color": "black"}, "encoding": {"text": {"field": "s"}}},
        {"data": {"name": "d_nm"}, "mark": {"type": "text", "angle": 270, "align": "left", "baseline": "middle", "font": "Liberation Serif", "fontSize": 24, "color": "#e00000"}, "encoding": {"text": {"field": "s"}}},
        {"data": {"name": "d_nm2"}, "mark": {"type": "text", "angle": 270, "align": "left", "baseline": "middle", "font": "Liberation Serif", "fontWeight": "bold", "fontSize": 22, "color": "#e00000"}, "encoding": {"text": {"field": "s"}}},
        {"data": {"values": [{"s": "PDA Multi 3"}]}, "mark": {"type": "text", "align": "right", "baseline": "alphabetic", "dx": -2, "dy": 29, "font": "Liberation Serif", "fontSize": 32, "color": "black"}, "encoding": {"x": {"datum": 63}, "y": {"datum": 44.9}, "text": {"field": "s"}}}
      ]
    }
  ],
  "spacing": 109,
  "bounds": "flush"
}
